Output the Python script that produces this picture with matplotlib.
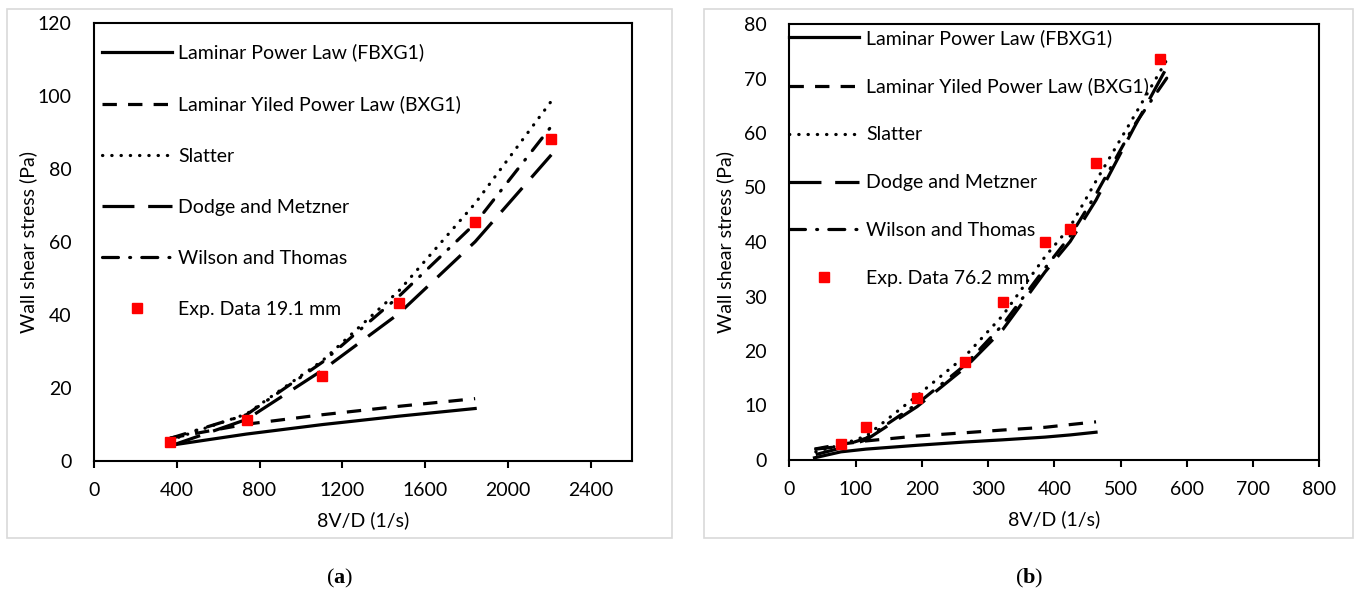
import matplotlib
matplotlib.use("Agg")
import matplotlib.pyplot as plt
from matplotlib.patches import Rectangle

plt.rcParams['font.family'] = ['Lato', 'DejaVu Sans']
plt.rcParams['mathtext.fontset'] = 'custom'
plt.rcParams['mathtext.rm'] = 'Liberation Serif'
plt.rcParams['mathtext.bf'] = 'Liberation Serif:bold'

# ---- panel (a): 19.1 mm pipe ----
x_a_exp = [367, 737, 1104, 1473, 1842, 2210]
exp_a = [5.1, 11.1, 23.1, 43.1, 65.3, 88.1]
x_a_lam = [367, 737, 1104, 1473, 1842]
lam_pl_a = [4.2, 7.3, 9.9, 12.2, 14.3]
lam_ypl_a = [6.2, 10.0, 12.6, 14.9, 17.0]
x_a_mod = [367, 737, 1104, 1473, 1842, 2210]
slatter_a = [5.6, 12.8, 27.4, 46.5, 70.5, 98.5]
dodge_a = [4.0, 11.3, 24.8, 40.3, 60.0, 83.8]
wilson_a = [6.1, 12.6, 27.0, 45.0, 65.0, 91.6]

# ---- panel (b): 76.2 mm pipe ----
x_b_exp = [78, 116, 193, 265, 322, 386, 424, 463, 560]
exp_b = [2.9, 6.0, 11.4, 18.0, 29.0, 40.0, 42.3, 54.5, 73.5]
x_b_lam = [38, 78, 116, 193, 265, 322, 386, 424, 463]
lam_pl_b = [0.4, 1.5, 2.0, 2.7, 3.3, 3.7, 4.2, 4.6, 5.1]
lam_ypl_b = [2.0, 2.9, 3.5, 4.4, 5.0, 5.5, 6.0, 6.5, 7.0]
x_b_mod = [40, 78, 116, 193, 265, 322, 386, 424, 463, 520, 575]
slatter_b = [1.5, 2.8, 4.4, 11.8, 19.0, 26.5, 37.3, 42.8, 51.2, 63.0, 74.5]
dodge_b = [1.0, 2.2, 3.7, 9.8, 16.9, 23.9, 34.5, 40.1, 47.7, 60.9, 73.2]
wilson_b = [2.0, 2.5, 4.0, 10.3, 17.4, 24.8, 35.2, 41.1, 48.8, 61.3, 71.0]

labels = ["Laminar Power Law (FBXG1)", "Laminar Yiled Power Law (BXG1)",
          "Slatter", "Dodge and Metzner", "Wilson and Thomas"]

W, H = 1355, 592
fig = plt.figure(figsize=(W / 100, H / 100), dpi=100)

LW = 2.3
styles = {
    "solid": dict(linestyle="-"),
    "dash": dict(linestyle=(0, (4.5, 3.5))),
    "dot": dict(linestyle=(0, (0.1, 2.8)), dash_capstyle="round"),
    "long": dict(linestyle=(0, (10, 4.3))),
    "dashdot": dict(linestyle=(0, (5, 3.5, 0.3, 3.5)), dash_capstyle="round"),
}


def panel(rect, x_lam, pl, ypl, x_mod, sl, dm, wt, x_exp, ex, exp_label,
          xlim, xticks, ylim, yticks, leg_anchor, leg_space):
    ax = fig.add_axes(rect)
    ax.plot(x_lam, pl, color="black", lw=LW, label=labels[0], **styles["solid"])
    ax.plot(x_lam, ypl, color="black", lw=LW, label=labels[1], **styles["dash"])
    ax.plot(x_mod, sl, color="black", lw=LW, label=labels[2], **styles["dot"])
    ax.plot(x_mod, dm, color="black", lw=LW, label=labels[3], **styles["long"])
    ax.plot(x_mod, wt, color="black", lw=LW, label=labels[4], **styles["dashdot"])
    ax.plot(x_exp, ex, "s", color="#ff0000", ms=7, mec="#ff0000", linestyle="none",
            label=exp_label)
    ax.set_xlim(*xlim)
    ax.set_ylim(*ylim)
    ax.set_xticks(xticks)
    ax.set_yticks(yticks)
    for s in ax.spines.values():
        s.set_linewidth(1.5)
    ax.tick_params(axis="x", length=5, width=1.5, direction="out", pad=10,
                   labelsize=14)
    ax.tick_params(axis="y", length=0, pad=16, labelsize=14)
    ax.set_xlabel("8V/D (1/s)", fontsize=14, labelpad=9)
    ax.set_ylabel("Wall shear stress (Pa)", fontsize=14)
    ax.legend(loc="upper left", bbox_to_anchor=leg_anchor, frameon=False,
              fontsize=14, handlelength=3.6, handletextpad=0.35,
              labelspacing=leg_space, borderpad=0, borderaxespad=0,
              numpoints=1)
    return ax


ax1 = panel([94 / W, (H - 460.7) / H, 538 / W, 438 / H],
            x_a_lam, lam_pl_a, lam_ypl_a, x_a_mod, slatter_a, dodge_a, wilson_a,
            x_a_exp, exp_a, "Exp. Data 19.1 mm",
            (0, 2600), [0, 400, 800, 1200, 1600, 2000, 2400],
            (0, 120), [0, 20, 40, 60, 80, 100, 120],
            (0.014, 0.952), 1.75)
ax1.yaxis.set_label_coords(-0.106, 0.5)

ax2 = panel([789.3 / W, (H - 460) / H, 530 / W, 436 / H],
            x_b_lam, lam_pl_b, lam_ypl_b, x_b_mod, slatter_b, dodge_b, wilson_b,
            x_b_exp, exp_b, "Exp. Data 76.2 mm",
            (0, 800), [0, 100, 200, 300, 400, 500, 600, 700, 800],
            (0, 80), [0, 10, 20, 30, 40, 50, 60, 70, 80],
            (0.0, 0.989), 1.59)
ax2.yaxis.set_label_coords(-0.104, 0.5)

# light grey frames around the two panels
for x0, x1 in [(6.7, 672), (704, 1353)]:
    fig.patches.append(Rectangle((x0 / W, (H - 538) / H), (x1 - x0) / W, (538 - 9) / H,
                                 transform=fig.transFigure, fill=False,
                                 edgecolor="#d9d9d9", lw=1.2))

fig.text(340 / W, (H - 578) / H, r"($\mathbf{a}$)", ha="center", va="center",
         fontsize=16, family="Liberation Serif")
fig.text(1029 / W, (H - 578) / H, r"($\mathbf{b}$)", ha="center", va="center",
         fontsize=16, family="Liberation Serif")

fig.savefig("out.png", dpi=100)
